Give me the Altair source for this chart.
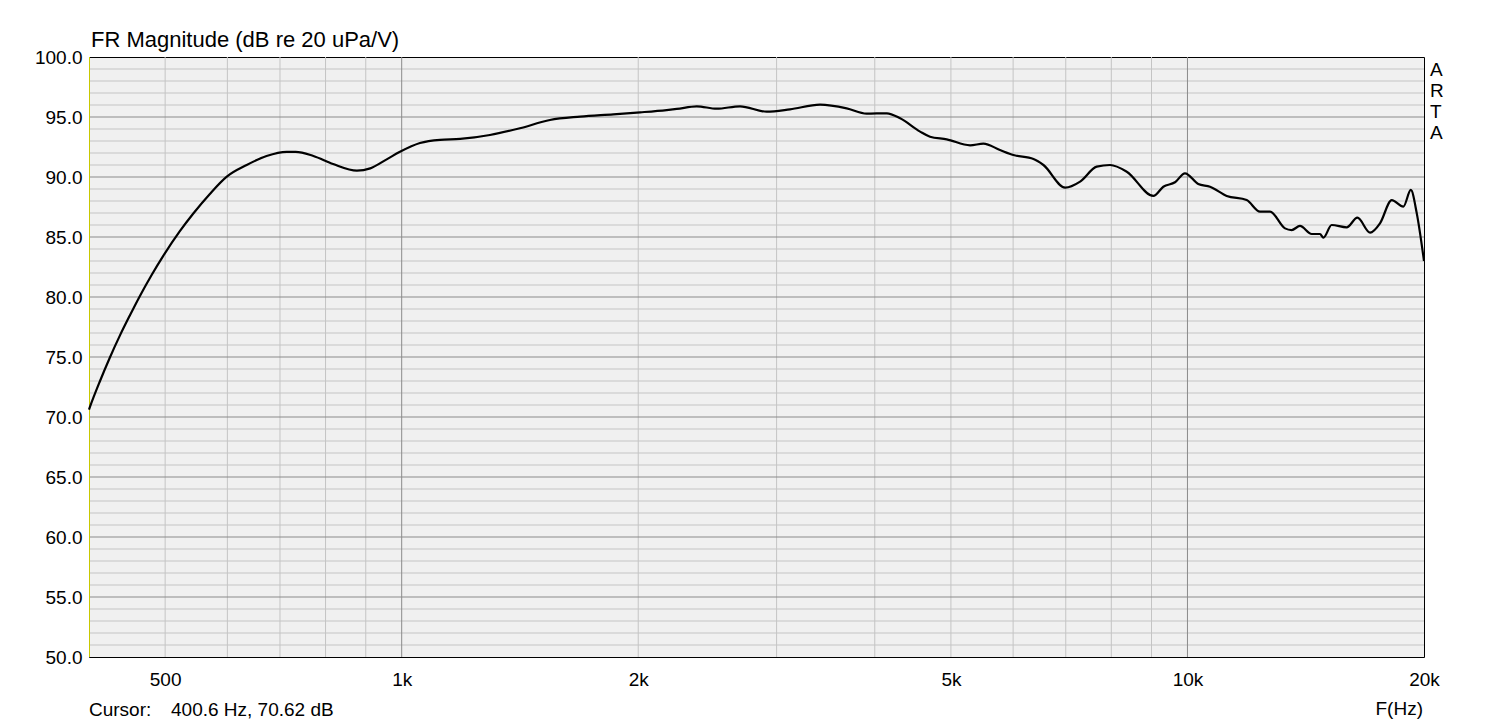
import altair as alt
import pandas as pd

# ---- data ----
freq_hz = [400, 401, 413, 425, 438, 451, 464, 481, 497, 522, 543, 570, 599, 635, 673,
           714, 733, 772, 818, 877, 912, 957, 995, 1055, 1119, 1187, 1295, 1414, 1544,
           1687, 1859, 2012, 2174, 2239, 2374, 2517, 2695, 2914, 3120, 3407, 3684, 3906,
           4144, 4309, 4568, 4703, 4939, 5289, 5499, 5773, 6004, 6368, 6557, 6989, 7301,
           7665, 7971, 8370, 9050, 9317, 9642, 9927, 10321, 10684, 11219, 11894, 12369,
           12737, 13309, 13572, 13905, 14392, 14746, 14893, 15259, 15945, 16454, 17080,
           17581, 18196, 18828, 19242, 19581, 20000]
mag_db = [70.62, 70.82, 72.98, 74.92, 76.80, 78.48, 80.05, 81.88, 83.41, 85.49, 86.96, 88.59,
          90.03, 91.0, 91.75, 92.1, 92.1, 91.75, 91.08, 90.53, 90.72, 91.47, 92.1, 92.83,
          93.1, 93.17, 93.5, 94.06, 94.75, 95.03, 95.22, 95.39, 95.58, 95.67, 95.89, 95.69,
          95.89, 95.44, 95.64, 96.03, 95.72, 95.28, 95.31, 94.89, 93.78, 93.36, 93.14,
          92.64, 92.78, 92.25, 91.83, 91.5, 91.0, 89.11, 89.61, 90.86, 91.0, 90.44, 88.42,
          89.19, 89.56, 90.31, 89.42, 89.19, 88.42, 88.08, 87.11, 87.11, 85.72, 85.58,
          85.92, 85.25, 85.25, 84.94, 86.0, 85.81, 86.61, 85.36, 86.14, 88.08, 87.53,
          88.92, 86.97, 83.0]

x_tick_values = [500, 1000, 2000, 5000, 10000, 20000]
x_tick_labels = ["500", "1k", "2k", "5k", "10k", "20k"]
x_minor_grid = [500, 600, 700, 800, 900, 2000, 3000, 4000, 5000, 6000, 7000, 8000, 9000]
x_major_grid = [1000, 10000]
y_tick_values = [50, 55, 60, 65, 70, 75, 80, 85, 90, 95, 100]
y_minor_grid = [v for v in range(51, 100) if v % 5 != 0]
y_major_grid = [55, 60, 65, 70, 75, 80, 85, 90, 95]

title_text = "FR Magnitude (dB re 20 uPa/V)"
cursor_label = "Cursor:"
cursor_value = "400.6 Hz, 70.62 dB"
cursor_freq = [400.6]
x_axis_name = "F(Hz)"
brand_letters = "A\nR\nT\nA"

FONT = "Liberation Sans"
W, H = 1335, 600

xscale = alt.Scale(type="log", domain=[400, 20000], nice=False, zero=False)
yscale = alt.Scale(domain=[50, 100], nice=False, zero=False)

curve_df = pd.DataFrame({"f": freq_hz, "db": mag_db})

label_expr = "{" + ",".join(f"'{v}':'{l}'" for v, l in zip(x_tick_values, x_tick_labels)) + "}[toString(datum.value)]"

x_axis = alt.Axis(values=x_tick_values, labelExpr=label_expr, grid=False, ticks=False,
                  domain=False, title=None, labelFont=FONT, labelFontSize=19,
                  labelColor="black", labelPadding=13, labelFlush=False)
y_axis = alt.Axis(values=y_tick_values, format=".1f", grid=False, ticks=False,
                  domain=False, title=None, labelFont=FONT, labelFontSize=19,
                  labelColor="black", labelPadding=7)

def X():
    return alt.X("f:Q", scale=xscale, axis=x_axis)

def Y():
    return alt.Y("db:Q", scale=yscale, axis=y_axis)

def vgrid(vals, color):
    return alt.Chart(pd.DataFrame({"f": vals})).mark_rule(color=color, strokeWidth=1).encode(x=X())

def hgrid(vals, color):
    return alt.Chart(pd.DataFrame({"db": vals})).mark_rule(color=color, strokeWidth=1).encode(y=Y())

grid = alt.layer(
    vgrid(x_minor_grid, "#c4c4c4"),
    hgrid(y_minor_grid, "#c4c4c4"),
    hgrid(y_major_grid, "#8a8a8a"),
    vgrid(x_major_grid, "#8a8a8a"),
)

cursor = alt.Chart(pd.DataFrame({"f": cursor_freq})).mark_rule(color="#c8c800", strokeWidth=1).encode(x=X())

curve = alt.Chart(curve_df).mark_line(color="black", strokeWidth=2.2, interpolate="monotone").encode(
    x=X(), y=Y())

def txt(text, x, y, align="left", size=19, **kw):
    return alt.Chart(pd.DataFrame({"t": [text]})).mark_text(
        align=align, baseline="alphabetic", font=FONT, fontSize=size, color="black", **kw
    ).encode(text="t:N", x=alt.value(x), y=alt.value(y))

texts = alt.layer(
    txt(title_text, 2, -10, size=22),
    txt(cursor_label, 0, 659),
    txt(cursor_value, 82, 659),
    txt(x_axis_name, 1334, 658, align="right"),
    alt.Chart(pd.DataFrame({"t": [brand_letters]})).mark_text(
        align="left", baseline="alphabetic", font=FONT, fontSize=19, color="black",
        lineBreak="\n", lineHeight=21
    ).encode(text="t:N", x=alt.value(1341), y=alt.value(19)),
)

chart = alt.layer(grid, cursor, curve, texts).properties(
    width=W, height=H,
    autosize=alt.AutoSizeParams(type="none"),
    padding={"left": 81, "top": 49, "right": 80, "bottom": 68},
    background="white",
).configure_view(fill="#f0f0f0", stroke="black", strokeWidth=1)

chart.save("out.html", embed_options={"renderer": "svg", "actions": False})
